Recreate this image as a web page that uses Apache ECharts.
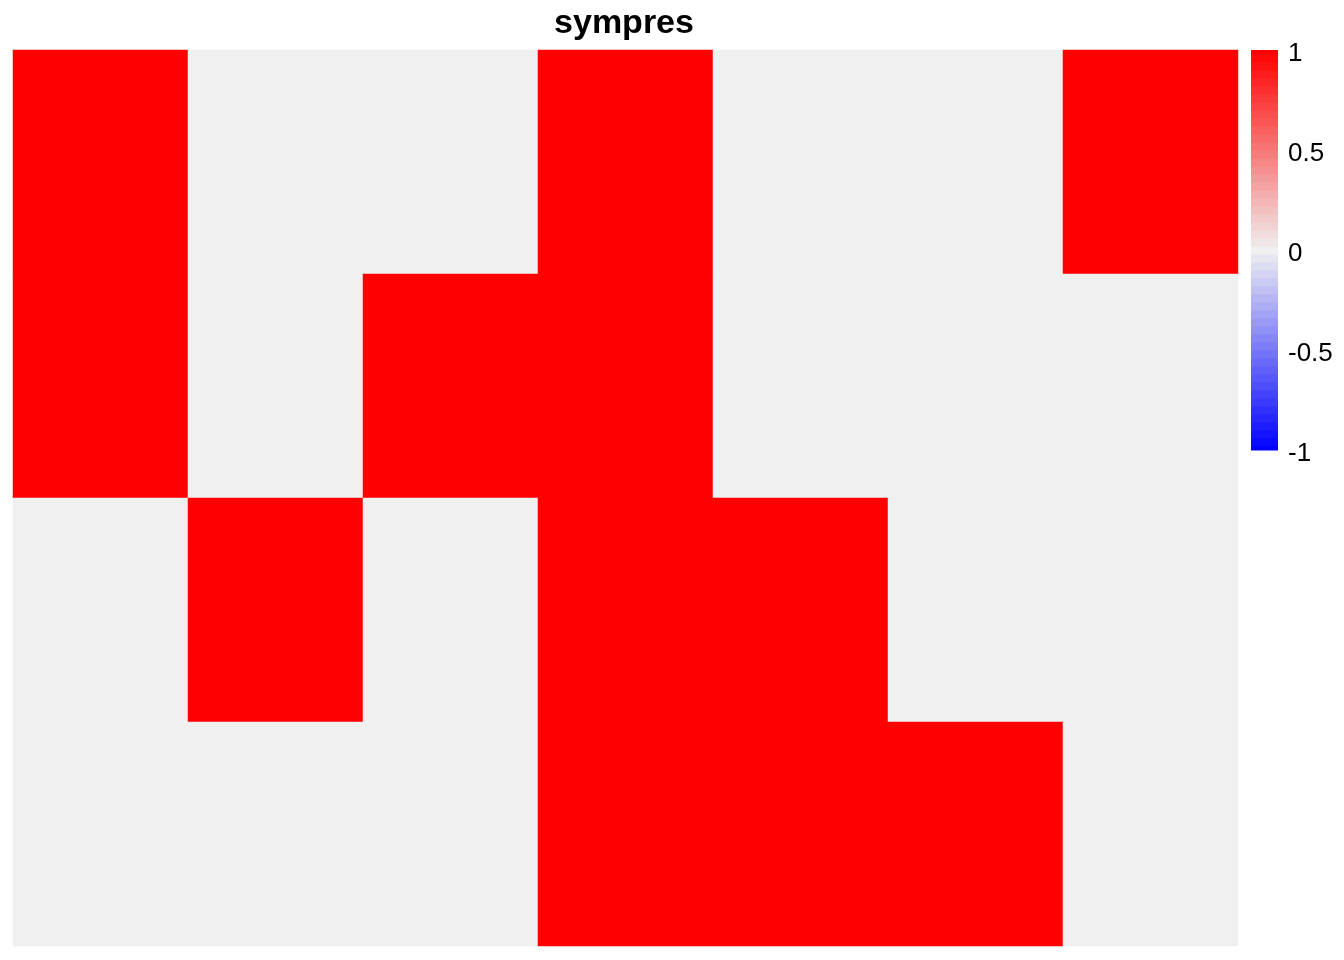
<!DOCTYPE html>
<html>
<head>
<meta charset="utf-8">
<script src="https://cdn.jsdelivr.net/npm/echarts@6/dist/echarts.min.js"></script>
<style>html,body{margin:0;padding:0;background:#fff;}#c{width:1344px;height:960px;}</style>
</head>
<body>
<div id="c"></div>
<script>
// Data
var titleText = 'sympres';
var columns = ['C1','C2','C3','C4','C5','C6','C7'];
var rows = ['R1','R2','R3','R4'];
var matrix = [
  [1,0,0,1,0,0,1],
  [1,0,1,1,0,0,0],
  [0,1,0,1,1,0,0],
  [0,0,0,1,1,1,0]
];
var legendTicks = [-1, -0.5, 0, 0.5, 1];
var legendMin = -1, legendMax = 1, legendStep = 0.04;

var heatData = [];
for (var r = 0; r < rows.length; r++) {
  for (var c = 0; c < columns.length; c++) {
    heatData.push([c, r, matrix[r][c]]);
  }
}
var legendData = [];
var nHalf = Math.round((legendMax - legendMin) / legendStep / 2);
for (var k = -nHalf; k <= nHalf; k++) {
  var mid = k * legendStep;
  var lo = Math.max(legendMin, mid - legendStep / 2);
  var hi = Math.min(legendMax, mid + legendStep / 2);
  legendData.push([0, lo, mid, hi]);
}

var chart = echarts.init(document.getElementById('c'), null, {renderer: 'canvas'});
var fontFam = '"Liberation Sans", Arial, Helvetica, sans-serif';
chart.setOption({
  backgroundColor: '#ffffff',
  animation: false,
  title: {
    text: titleText,
    left: 619, textAlign: 'center', top: 2,
    textStyle: {fontFamily: fontFam, fontSize: 34, fontWeight: 'bold', color: '#000'}
  },
  grid: [
    {left: 13, top: 50, width: 1225, height: 896},
    {left: 1251, top: 50, width: 27, height: 400}
  ],
  xAxis: [
    {type: 'category', gridIndex: 0, data: columns, show: false},
    {type: 'category', gridIndex: 1, data: [''], show: false}
  ],
  yAxis: [
    {type: 'category', gridIndex: 0, data: rows, inverse: true, show: false},
    {type: 'value', gridIndex: 1, min: legendMin, max: legendMax, interval: 0.5, position: 'right',
     axisLine: {show: false}, axisTick: {show: false}, splitLine: {show: false},
     axisLabel: {show: true, margin: 10, color: '#000',
       formatter: function (v) { return legendTicks.indexOf(v) >= 0 ? '{t|' + String(v) + '}' : ''; },
       rich: {t: {fontSize: 26, color: '#000', fontFamily: fontFam, padding: [7, 0, 0, 0]}}}}
  ],
  visualMap: {
    type: 'continuous', show: false, min: legendMin, max: legendMax, dimension: 2,
    seriesIndex: [0, 1],
    inRange: {color: ['#0000FF', '#F0F0F0', '#FF0000']}
  },
  series: [
    {
      type: 'heatmap', xAxisIndex: 0, yAxisIndex: 0, data: heatData,
      itemStyle: {borderWidth: 0}, emphasis: {disabled: true}
    },
    {
      type: 'custom', xAxisIndex: 1, yAxisIndex: 1, data: legendData,
      encode: {x: 0, y: [1, 3]},
      renderItem: function (params, api) {
        var lo = api.value(1), hi = api.value(3);
        var pTop = api.coord([0, hi]);
        var pBot = api.coord([0, lo]);
        var w = api.size([1, 0])[0];
        return {
          type: 'rect',
          shape: {x: pTop[0] - w / 2, y: pTop[1], width: w, height: pBot[1] - pTop[1] + 0.5},
          style: {fill: api.visual('color')}
        };
      }
    }
  ]
});
</script>
</body>
</html>
